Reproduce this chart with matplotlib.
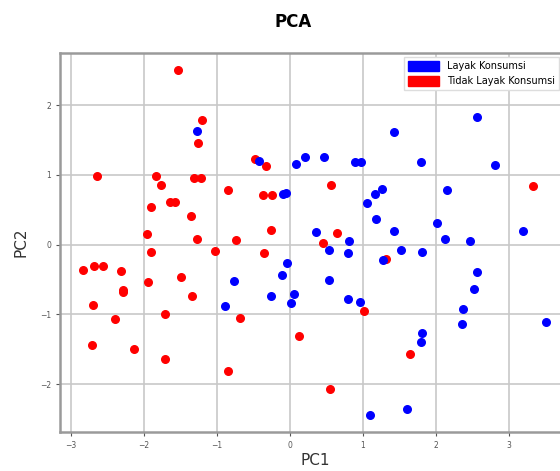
import matplotlib
matplotlib.use("Agg")
import matplotlib.pyplot as plt
import matplotlib.patches as mpatches

# PCA scores, class "Tidak Layak Konsumsi" (red)
tidak_pc1 = [-1.54, -1.20, -1.26, -0.48, -0.33, -2.65, -1.83, -1.77, -1.32, -1.22,
             -0.85, -0.37, -0.24, -1.90, -1.64, -1.58, -1.36, -0.26, -1.96, -1.28,
             -0.74, 0.56, 3.33, 0.65, 0.45, 1.31, -1.90, -1.02, -0.35, -2.83,
             -2.68, -2.56, -2.31, -1.94, -1.49, -2.29, -2.29, -1.34, -2.70, -2.39,
             -1.71, -0.68, 1.01, 0.13, -2.71, -2.14, -1.71, -0.85, 1.64, 0.55]
tidak_pc2 = [2.50, 1.79, 1.45, 1.23, 1.13, 0.98, 0.98, 0.86, 0.96, 0.96,
             0.78, 0.71, 0.71, 0.54, 0.61, 0.61, 0.41, 0.21, 0.15, 0.08,
             0.07, 0.85, 0.84, 0.17, 0.03, -0.21, -0.10, -0.09, -0.12, -0.37,
             -0.31, -0.31, -0.38, -0.54, -0.46, -0.65, -0.68, -0.74, -0.87, -1.06,
             -0.99, -1.05, -0.95, -1.31, -1.44, -1.50, -1.64, -1.81, -1.56, -2.07]

# PCA scores, class "Layak Konsumsi" (blue)
layak_pc1 = [-1.28, -0.43, 0.08, 0.21, 0.47, 0.89, 0.97, 1.43, 1.79, 2.56,
             2.81, -0.10, -0.05, 1.26, 1.17, 1.06, 1.18, 2.15, 1.43, 2.01,
             0.36, 0.81, 2.12, 2.47, 3.19, 0.54, 0.79, 1.52, 1.81, 1.28,
             -0.04, 2.56, 2.52, 0.54, 0.05, 0.02, 0.79, 0.96, 2.37, 2.35,
             3.51, 1.81, 1.79, 1.61, 1.10, -0.77, -0.11, -0.26, -0.89]
layak_pc2 = [1.63, 1.20, 1.15, 1.26, 1.25, 1.18, 1.19, 1.62, 1.19, 1.83,
             1.14, 0.72, 0.74, 0.80, 0.72, 0.60, 0.37, 0.78, 0.19, 0.31,
             0.18, 0.05, 0.08, 0.05, 0.19, -0.08, -0.12, -0.07, -0.11, -0.22,
             -0.26, -0.39, -0.64, -0.51, -0.71, -0.83, -0.78, -0.82, -0.92, -1.13,
             -1.11, -1.27, -1.39, -2.36, -2.44, -0.52, -0.43, -0.74, -0.88]

labels = ["Layak Konsumsi", "Tidak Layak Konsumsi"]

fig = plt.figure(figsize=(5.6, 4.71), dpi=100)
# the original picture is cut on the right, the axes go past the border
ax = fig.add_axes([60 / 560, 39.3 / 471, 511 / 560, 379 / 471])

ax.scatter(tidak_pc1, tidak_pc2, color="red", s=30, zorder=3)
ax.scatter(layak_pc1, layak_pc2, color="blue", s=30, zorder=3)

ax.set_xlim(-3.15, 3.85)
ax.set_ylim(-2.68, 2.75)
ax.grid(True, color="#c8c8c8", lw=1.2, zorder=0)
for s in ax.spines.values():
    s.set_color("#9a9a9a")
    s.set_linewidth(1.8)
ax.tick_params(labelsize=5.5, colors="#555555", length=3, width=0.8)

ax.set_xlabel("PC1", fontsize=11, color="#333333", labelpad=2)
ax.set_ylabel("PC2", fontsize=11, color="#333333", labelpad=8)
fig.text(293 / 560, 1 - 22 / 471, "PCA", ha="center", va="center",
         fontsize=12, fontweight="bold")

# legend kept inside the picture so its text is not cut
handles = [mpatches.Patch(color="blue", label=labels[0]),
           mpatches.Patch(color="red", label=labels[1])]
ax.legend(handles=handles, loc="upper right", fontsize=7,
          bbox_to_anchor=(559 / 560, 1 - 57 / 471), bbox_transform=fig.transFigure,
          handlelength=3.2, handleheight=1.2, framealpha=1, edgecolor="#dddddd",
          fancybox=False, borderaxespad=0)

fig.savefig("out.png", dpi=100)
